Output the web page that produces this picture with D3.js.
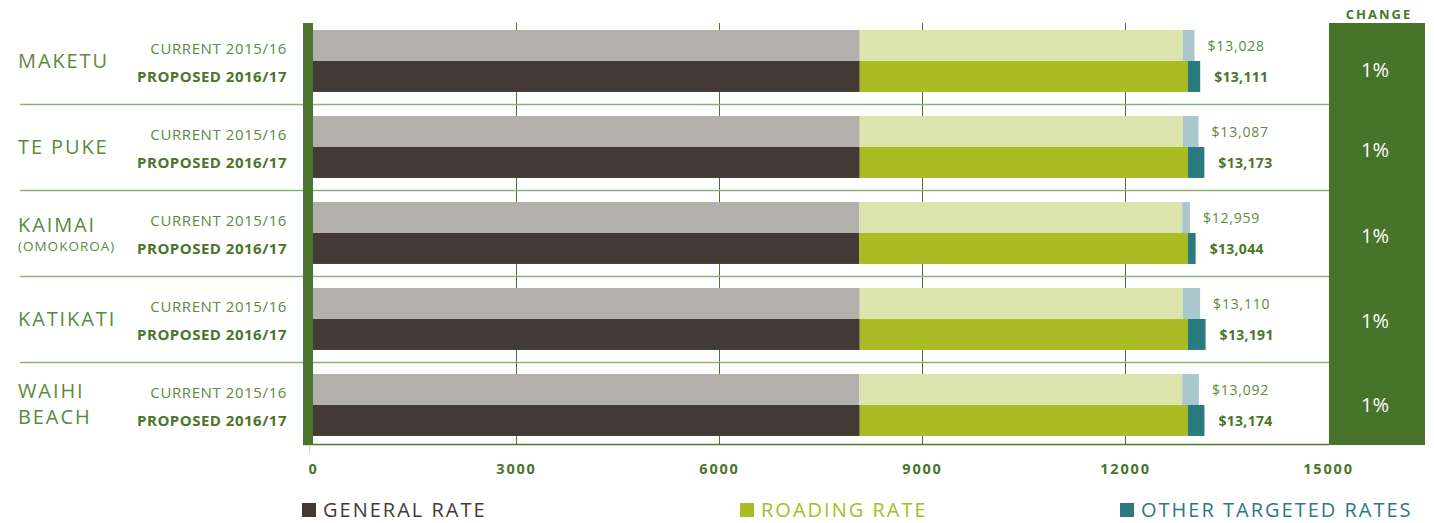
<!DOCTYPE html>
<html>
<head>
<meta charset="utf-8">
<script src="https://cdn.jsdelivr.net/npm/d3@7"></script>
<style>
  body { margin: 0; background: #fff; }
  svg text { font-family: "Open Sans", "Noto Sans", sans-serif; }
</style>
</head>
<body>
<div class="chart"></div>
<script>
var svgWidth = 1434;
var svgHeight = 523;

// data
var locations = ["MAKETU", "TE PUKE", "KAIMAI", "KATIKATI", "WAIHI BEACH"];
var subNames = ["", "", "(OMOKOROA)", "", ""];
var years = ["CURRENT 2015/16", "PROPOSED 2016/17"];

var generalCurrent = [8080, 8080, 8075, 8080, 8075];
var roadingCurrent = [4777, 4777, 4770, 4777, 4770];
var otherCurrent = [171, 230, 114, 253, 247];
var totalCurrent = ["$13,028", "$13,087", "$12,959", "$13,110", "$13,092"];

var generalProposed = [8080, 8080, 8070, 8080, 8080];
var roadingProposed = [4851, 4851, 4861, 4851, 4851];
var otherProposed = [180, 242, 113, 260, 243];
var totalProposed = ["$13,111", "$13,173", "$13,044", "$13,191", "$13,174"];

var changes = ["1%", "1%", "1%", "1%", "1%"];
var xTicks = [0, 3000, 6000, 9000, 12000, 15000];
var legendLabels = ["GENERAL RATE", "ROADING RATE", "OTHER TARGETED RATES"];

var green = "#4a752b";
var textGreen = "#5b8a3c";
var colors = {
  current: ["#b3afab", "#dce4ad", "#a9c8cc"],
  proposed: ["#433a35", "#a9bc24", "#2b7a80"]
};
var keys = ["general", "roading", "other"];

var svg = d3.select(".chart")
  .append("svg")
  .attr("width", svgWidth)
  .attr("height", svgHeight);

var xScale = d3.scaleLinear()
  .domain([0, 15000])
  .range([313, 1328]);

var yGroup = d3.scaleBand()
  .domain(locations)
  .range([18, 448])
  .paddingInner(0.28)
  .paddingOuter(0.14);

var yRow = d3.scaleBand()
  .domain(["current", "proposed"])
  .range([0, yGroup.bandwidth()]);

// flatten rows for the stack
var rows = [];
locations.forEach(function(loc, i) {
  rows.push({loc: loc, row: "current", general: generalCurrent[i], roading: roadingCurrent[i], other: otherCurrent[i], label: totalCurrent[i]});
  rows.push({loc: loc, row: "proposed", general: generalProposed[i], roading: roadingProposed[i], other: otherProposed[i], label: totalProposed[i]});
});

var stacked = d3.stack().keys(keys)(rows);

// vertical grid lines
svg.append("g")
  .selectAll("line")
  .data(xTicks.slice(1, 5))
  .enter()
  .append("line")
  .attr("x1", d => xScale(d) + 0.5)
  .attr("x2", d => xScale(d) + 0.5)
  .attr("y1", 23)
  .attr("y2", 445)
  .attr("stroke", green)
  .attr("stroke-width", 1);

// horizontal separators between locations
svg.append("g")
  .selectAll("line")
  .data(locations.slice(1))
  .enter()
  .append("line")
  .attr("x1", 20)
  .attr("x2", 1329)
  .attr("y1", d => yGroup(d) - yGroup.step() * 0.14 + 0.5)
  .attr("y2", d => yGroup(d) - yGroup.step() * 0.14 + 0.5)
  .attr("stroke", "#8fae7a")
  .attr("stroke-width", 1.5);

// bars
stacked.forEach(function(layer, k) {
  svg.append("g")
    .selectAll("rect")
    .data(layer)
    .enter()
    .append("rect")
    .attr("x", d => xScale(d[0]))
    .attr("width", d => xScale(d[1]) - xScale(d[0]))
    .attr("y", d => yGroup(d.data.loc) + yRow(d.data.row))
    .attr("height", yRow.bandwidth())
    .attr("fill", d => colors[d.data.row][k]);
});

// total labels
svg.append("g")
  .selectAll("text")
  .data(rows)
  .enter()
  .append("text")
  .attr("x", d => xScale(d.general + d.roading + d.other) + (d.row === "current" ? 13 : 14))
  .attr("y", d => yGroup(d.loc) + yRow(d.row) + yRow.bandwidth() / 2 + 5.5)
  .attr("fill", d => d.row === "current" ? textGreen : green)
  .attr("font-size", 14)
  .attr("letter-spacing", d => d.row === "current" ? 0.8 : 0.3)
  .attr("font-weight", d => d.row === "current" ? 400 : 700)
  .text(d => d.label);

// thick green left axis bar
svg.append("rect")
  .attr("x", 303)
  .attr("y", 23)
  .attr("width", 10)
  .attr("height", 422)
  .attr("fill", green);

// bottom axis
var bottomAxis = d3.axisBottom(xScale)
  .tickValues(xTicks)
  .tickSize(0)
  .tickPadding(19)
  .tickFormat(d3.format("d"));

var xAxis = svg.append("g")
  .attr("transform", "translate(0, 444.5)")
  .call(bottomAxis);

xAxis.select(".domain")
  .attr("stroke", green)
  .attr("stroke-width", 1.5)
  .attr("d", "M303,0H1329");

xAxis.selectAll("text")
  .attr("fill", green)
  .attr("font-size", 14.5)
  .attr("font-weight", 700)
  .attr("letter-spacing", 1.8)
  .attr("font-family", "Open Sans");

svg.append("line")
  .attr("x1", 309.5).attr("x2", 309.5)
  .attr("y1", 445).attr("y2", 453)
  .attr("stroke", "#cfdcc6");

// change column
svg.append("rect")
  .attr("x", 1329)
  .attr("y", 23)
  .attr("width", 96)
  .attr("height", 422)
  .attr("fill", "#48732a");

svg.append("text")
  .attr("x", 1379)
  .attr("y", 19)
  .attr("text-anchor", "middle")
  .attr("fill", green)
  .attr("font-size", 13)
  .attr("font-weight", 700)
  .attr("letter-spacing", 2)
  .text("CHANGE");

var changeDy = [16, 10, 10, 9, 7];
svg.append("g")
  .selectAll("text")
  .data(locations)
  .enter()
  .append("text")
  .attr("x", 1375)
  .attr("y", (d, i) => yGroup(d) + yGroup.bandwidth() / 2 + changeDy[i])
  .attr("text-anchor", "middle")
  .attr("fill", "#fff")
  .attr("font-size", 20)
  .text((d, i) => changes[i]);

// location names
var locGroup = svg.append("g");
function locText(y, str, size, spacing) {
  locGroup.append("text")
    .attr("x", 18)
    .attr("y", y)
    .attr("fill", textGreen)
    .attr("font-size", size)
    .attr("letter-spacing", spacing)
    .text(str);
}
locations.forEach(function(loc, i) {
  var mid = yGroup(loc) + yGroup.bandwidth() / 2;
  if (loc === "WAIHI BEACH") {
    locText(mid - 7.5, "WAIHI", 20, 1.9);
    locText(mid + 18.5, "BEACH", 20, 1.9);
  } else if (subNames[i]) {
    locText(mid - 1.5, loc, 20, 1.9);
    locText(mid + 18, subNames[i], 13.5, 1);
  } else {
    locText(mid + 6.5, loc, 20, 1.9);
  }

  // year labels
  locGroup.append("text")
    .attr("x", 287)
    .attr("y", yGroup(loc) + yRow("current") + yRow.bandwidth() / 2 + 8)
    .attr("text-anchor", "end")
    .attr("fill", textGreen)
    .attr("font-size", 15)
    .attr("letter-spacing", 0.6)
    .text(years[0]);
  locGroup.append("text")
    .attr("x", 287)
    .attr("y", yGroup(loc) + yRow("proposed") + yRow.bandwidth() / 2 + 6)
    .attr("text-anchor", "end")
    .attr("fill", green)
    .attr("font-size", 15)
    .attr("font-weight", 700)
    .attr("letter-spacing", 0.5)
    .text(years[1]);
});

// legend
var legendX = [302, 740, 1120];
var legendColors = colors.proposed;
var legend = svg.append("g");
legendLabels.forEach(function(lbl, i) {
  legend.append("rect")
    .attr("x", legendX[i])
    .attr("y", 503)
    .attr("width", 14)
    .attr("height", 14)
    .attr("fill", legendColors[i]);
  legend.append("text")
    .attr("x", legendX[i] + 21)
    .attr("y", 517)
    .attr("fill", legendColors[i])
    .attr("font-size", 20)
    .attr("letter-spacing", 2)
    .text(lbl);
});
</script>
</body>
</html>
